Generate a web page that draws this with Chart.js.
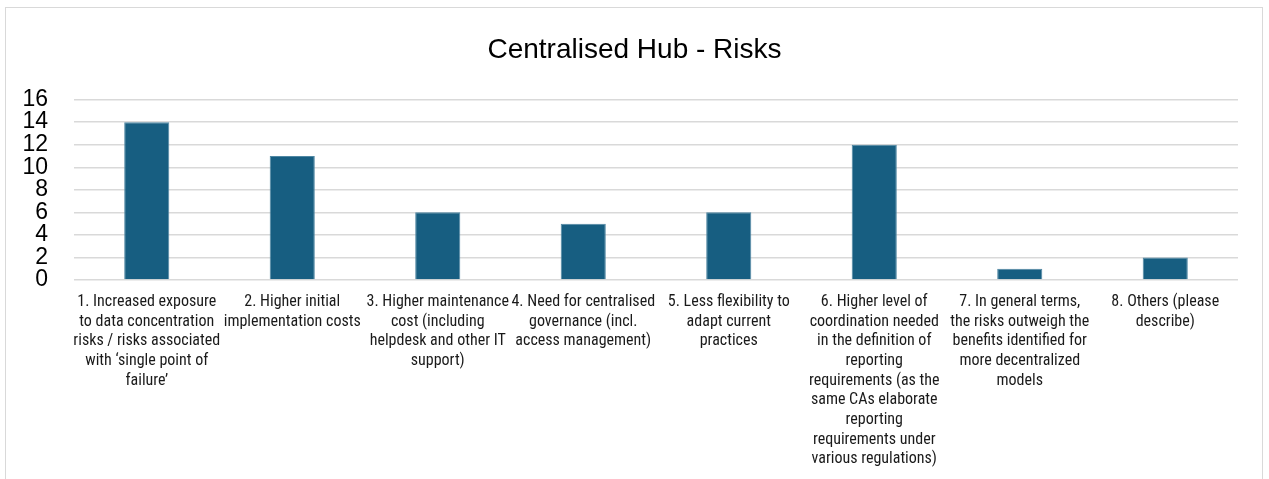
<!DOCTYPE html>
<html>
<head>
<meta charset="utf-8">
<script src="https://cdn.jsdelivr.net/npm/chart.js@4/dist/chart.umd.min.js"></script>
<style>
  html, body { margin: 0; padding: 0; background: #fff; }
  #wrap { position: relative; width: 1269px; height: 479px; overflow: hidden; }
  #frame { position: absolute; left: 5px; top: 7px; width: 1258px; height: 480px; border: 1px solid #d9d9d9; box-sizing: border-box; }
  canvas { position: absolute; left: 0; top: 0; }
</style>
</head>
<body>
<div id="wrap">
  <div id="frame"></div>
  <canvas id="myChart" width="1269" height="479"></canvas>
</div>
<script>
// Categorias (rótulos em várias linhas, como no original)
const categories = [
    ['1. Increased exposure', 'to data concentration', 'risks / risks associated', 'with \u2018single point of', 'failure\u2019'],
    ['2. Higher initial', 'implementation costs'],
    ['3. Higher maintenance', 'cost (including', 'helpdesk and other IT', 'support)'],
    ['4. Need for centralised', 'governance (incl.', 'access management)'],
    ['5. Less flexibility to', 'adapt current', 'practices'],
    ['6. Higher level of', 'coordination needed', 'in the definition of', 'reporting', 'requirements (as the', 'same CAs elaborate', 'reporting', 'requirements under', 'various regulations)'],
    ['7. In general terms,', 'the risks outweigh the', 'benefits identified for', 'more decentralized', 'models'],
    ['8. Others (please', 'describe)']
];

// Valores da série
const riskCounts = [14, 11, 6, 5, 6, 12, 1, 2];

// Eixo Y
const yMin = 0;
const yMax = 16;
const yStep = 2;

const ctx = document.getElementById('myChart').getContext('2d');

const myChart = new Chart(ctx, {
    type: 'bar',
    data: {
        labels: categories,
        datasets: [{
            label: 'Centralised Hub - Risks',
            data: riskCounts,
            backgroundColor: '#175e81',
            borderColor: '#4f87a3',
            borderWidth: 1,
            barPercentage: 0.31,
            categoryPercentage: 1
        }]
    },
    options: {
        responsive: false,
        animation: false,
        layout: {
            padding: { left: 0, right: 0, top: 20, bottom: 0 }
        },
        plugins: {
            legend: { display: false },
            tooltip: { enabled: false },
            title: {
                display: true,
                text: 'Centralised Hub - Risks',
                color: '#000',
                font: { family: 'Liberation Sans, Arial, sans-serif', size: 28, weight: 'normal' },
                padding: { top: 13, bottom: 33 }
            }
        },
        scales: {
            x: {
                grid: { display: false },
                border: { display: false },
                ticks: {
                    color: '#1a1a1a',
                    maxRotation: 0,
                    minRotation: 0,
                    autoSkip: false,
                    padding: 4,
                    font: { family: '"Liberation Sans Narrow", "Roboto Condensed", Roboto, sans-serif', size: 16, lineHeight: 1.23 }
                },
                afterFit: (scale) => { scale.height = 199; }
            },
            y: {
                min: yMin,
                max: yMax,
                grid: { color: '#d9d9d9', lineWidth: 1.5, drawTicks: false },
                border: { display: false },
                ticks: {
                    stepSize: yStep,
                    autoSkip: false,
                    color: '#000',
                    padding: 26,
                    font: { family: 'Liberation Sans, Arial, sans-serif', size: 23, lineHeight: 1 }
                },
                afterFit: (scale) => { scale.width = 74; }
            },
            // eixo vazio à direita só para reservar espaço (título fica centrado na moldura)
            yRight: {
                position: 'right',
                display: true,
                grid: { display: false, drawTicks: false },
                border: { display: false },
                ticks: { display: false },
                afterFit: (scale) => { scale.width = 31; }
            }
        }
    }
});
</script>
</body>
</html>
